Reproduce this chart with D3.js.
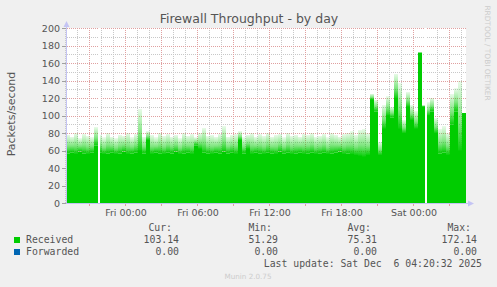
<!DOCTYPE html>
<html><head><meta charset="utf-8">
<script src="https://cdn.jsdelivr.net/npm/d3@7"></script>
<style>body{margin:0;background:#F0F0F0}svg{display:block}</style>
</head><body>
<script>
const title = "Firewall Throughput - by day";
const yLabel = "Packets/second";
const startTime = new Date(2025, 11, 4, 19, 0);
const endTime = new Date(2025, 11, 6, 4, 20, 32);
const stepMinutes = 20;
// Received: solid lower envelope and faded upper envelope per 20-min sample
const receivedBase = [
 57,58,56,59,57,56,58,66,58,56,
 57,58,56,57,59,56,57,58,60,57,
 72,56,58,57,56,58,57,59,56,57,
 58,56,66,62,58,57,56,58,57,59,
 57,58,56,72,57,62,56,58,57,56,
 58,57,56,59,57,58,56,57,58,56,
 57,58,56,57,58,56,57,58,59,56,
 57,56,55,54,53,55,
 118,105,55,85,100,98,120,85,80,110,95,85,172,110,100,105,80,57,58,55,90,105,60,103];
const receivedPeak = [
 78,76,80,74,79,77,75,87,78,75,
 80,76,74,78,77,80,75,79,108,76,
 82,78,75,80,77,79,76,78,74,80,
 77,79,75,80,86,77,78,76,79,88,
 76,78,79,82,75,78,80,76,79,77,
 80,76,78,79,75,80,77,78,76,79,
 78,80,76,77,79,75,80,78,76,79,
 80,82,78,84,85,80,
 125,118,70,112,122,110,148,137,95,127,112,105,172,112,115,120,97,85,88,80,125,131,140,103];
const gaps = [
  [new Date(2025, 11, 4, 21, 40), new Date(2025, 11, 4, 21, 50)],
  [new Date(2025, 11, 6, 0, 55), new Date(2025, 11, 6, 1, 5)]
];
const yTicks = [0, 20, 40, 60, 80, 100, 120, 140, 160, 180, 200];
const xTickLabels = ["Fri 00:00", "Fri 06:00", "Fri 12:00", "Fri 18:00", "Sat 00:00"];
const xTickTimes = [new Date(2025,11,5,0), new Date(2025,11,5,6), new Date(2025,11,5,12), new Date(2025,11,5,18), new Date(2025,11,6,0)];
const legendNames = ["Received", "Forwarded"];
const legendColors = ["#00CC00", "#0066B3"];
const statHeaders = ["Cur:", "Min:", "Avg:", "Max:"];
const receivedStats = ["103.14", "51.29", "75.31", "172.14"];
const forwardedStats = ["0.00", "0.00", "0.00", "0.00"];
const lastUpdate = "Last update: Sat Dec  6 04:20:32 2025";
const footer = "Munin 2.0.75";
const watermark = "RRDTOOL / TOBI OETIKER";

const W = 497, H = 287;
const svg = d3.select("body").append("svg").attr("width", W).attr("height", H);
svg.append("rect").attr("width", W).attr("height", H).attr("fill", "#F0F0F0");

const defs = svg.append("defs");
const grad = defs.append("linearGradient").attr("id", "fade").attr("x1", 0).attr("x2", 0).attr("y1", 0).attr("y2", 1);
grad.append("stop").attr("offset", "0%").attr("stop-color", "#00CC00").attr("stop-opacity", 0.08);
grad.append("stop").attr("offset", "60%").attr("stop-color", "#00CC00").attr("stop-opacity", 0.5);
grad.append("stop").attr("offset", "100%").attr("stop-color", "#00CC00").attr("stop-opacity", 0.95);

const L = 67, R = 466, T = 28, B = 203;
const endPlot = new Date(2025, 11, 6, 4, 20);
const x = d3.scaleTime().domain([startTime, endPlot]).range([66, 466]);
const y = d3.scaleLinear().domain([0, 200]).range([B, T]);

svg.append("rect").attr("x", L).attr("y", T).attr("width", R - L).attr("height", B - T).attr("fill", "#FFFFFF");

// grid
const g = svg.append("g");
d3.range(10, 201, 20).forEach(v => g.append("line").attr("x1", L).attr("x2", R).attr("y1", Math.round(y(v)) + 0.5).attr("y2", Math.round(y(v)) + 0.5)
  .attr("stroke", "#C8C8C8").attr("stroke-dasharray", "1,1"));
const hours = d3.timeHour.range(d3.timeHour.ceil(startTime), endTime);
hours.filter(t => t.getHours() % 3 !== 0).forEach(t => {
  const xx = Math.round(x(t)) - 0.5;
  g.append("line").attr("x1", xx).attr("x2", xx).attr("y1", T).attr("y2", B).attr("stroke", "#C8C8C8").attr("stroke-dasharray", "1,1");
});
yTicks.filter(v => v > 0).forEach(v => g.append("line").attr("x1", L).attr("x2", R).attr("y1", Math.round(y(v)) + 0.5).attr("y2", Math.round(y(v)) + 0.5)
  .attr("stroke", "#E0A0A0").attr("stroke-dasharray", "1,1"));
hours.filter(t => t.getHours() % 3 === 0).forEach(t => {
  const xx = Math.round(x(t)) - 0.5;
  g.append("line").attr("x1", xx).attr("x2", xx).attr("y1", T).attr("y2", B).attr("stroke", "#E0A0A0").attr("stroke-dasharray", "1,1");
  g.append("line").attr("x1", xx).attr("x2", xx).attr("y1", B).attr("y2", B + 3).attr("stroke", "#E0A0A0");
});

// data
const pts = receivedBase.map((v, i) => ({
  t: d3.timeMinute.offset(startTime, i * stepMinutes),
  t1: i === receivedBase.length - 1 ? endPlot : d3.timeMinute.offset(startTime, (i + 1) * stepMinutes),
  base: v, peak: receivedPeak[i]}));
svg.selectAll(".band").data(pts.filter(d => d.peak > d.base)).enter().append("rect")
  .attr("x", d => x(d.t)).attr("width", d => x(d.t1) - x(d.t))
  .attr("y", d => y(d.peak)).attr("height", d => y(d.base) - y(d.peak))
  .attr("fill", "url(#fade)").attr("shape-rendering", "crispEdges");
const stepPts = pts.concat([{t: endPlot, base: pts[pts.length - 1].base}]);
svg.append("path").datum(stepPts)
  .attr("d", d3.area().curve(d3.curveStepAfter).x(d => x(d.t)).y0(y(0)).y1(d => y(d.base)))
  .attr("fill", "#00CC00");
gaps.forEach(([a, b]) => svg.append("rect").attr("x", x(a)).attr("width", x(b) - x(a)).attr("y", T).attr("height", B - T).attr("fill", "#FFFFFF"));

// axes
const axisColor = "#C4C4F4";
svg.append("line").attr("x1", 66.5).attr("x2", 66.5).attr("y1", 24).attr("y2", B + 1).attr("stroke", axisColor);
svg.append("line").attr("x1", 66).attr("x2", 470).attr("y1", B + 0.5).attr("y2", B + 0.5).attr("stroke", axisColor);
svg.append("path").attr("d", "M63.5,27 L69.5,27 L66.5,21 Z").attr("fill", axisColor);
svg.append("path").attr("d", "M468,200.5 L468,206.5 L474,203.5 Z").attr("fill", axisColor);
yTicks.forEach(v => svg.append("line").attr("x1", 62).attr("x2", 66).attr("y1", Math.round(y(v)) + 0.5).attr("y2", Math.round(y(v)) + 0.5).attr("stroke", "#A0A0A0"));

const txt = "#555555";
svg.selectAll(".yt").data(yTicks).enter().append("text").attr("x", 60).attr("y", d => y(d) + 3.5)
  .attr("text-anchor", "end").attr("font-family", "DejaVu Sans").attr("font-size", 9.5).attr("fill", txt).text(d => d);
svg.selectAll(".xt").data(xTickTimes).enter().append("text").attr("x", d => x(d)).attr("y", 216)
  .attr("text-anchor", "middle").attr("font-family", "DejaVu Sans").attr("font-size", 9.5).attr("fill", txt).text((d, i) => xTickLabels[i]);

svg.append("text").attr("x", 249).attr("y", 23).attr("text-anchor", "middle").attr("font-family", "DejaVu Sans")
  .attr("font-size", 12.5).attr("fill", txt).text(title);
svg.append("text").attr("transform", "translate(15,114) rotate(-90)").attr("text-anchor", "middle").attr("font-family", "DejaVu Sans")
  .attr("font-size", 11).attr("fill", txt).text(yLabel);
svg.append("text").attr("transform", "translate(485,53) rotate(90)").attr("text-anchor", "middle").attr("font-family", "DejaVu Sans")
  .attr("font-size", 7.4).attr("fill", "#CCCCCC").text(watermark);

// legend
const mono = "DejaVu Sans Mono", fs = 9.8;
const headerRight = [172, 272, 371, 471];
const valueRight = [179, 278, 377, 477];
statHeaders.forEach((h, i) => svg.append("text").attr("x", headerRight[i]).attr("y", 231).attr("text-anchor", "end")
  .attr("font-family", mono).attr("font-size", fs).attr("fill", txt).text(h));
const rows = [receivedStats, forwardedStats];
legendNames.forEach((n, r) => {
  const by = 243 + r * 12;
  svg.append("rect").attr("x", 14).attr("y", by - 6).attr("width", 6).attr("height", 6).attr("fill", legendColors[r]);
  svg.append("text").attr("x", 26).attr("y", by).attr("font-family", mono).attr("font-size", fs).attr("fill", txt).text(n);
  rows[r].forEach((v, i) => svg.append("text").attr("x", valueRight[i]).attr("y", by).attr("text-anchor", "end")
    .attr("font-family", mono).attr("font-size", fs).attr("fill", txt).text(v));
});
svg.append("text").attr("x", 482).attr("y", 267).attr("text-anchor", "end").attr("font-family", mono).attr("font-size", fs)
  .attr("fill", txt).style("white-space", "pre").text(lastUpdate);
svg.append("text").attr("x", 248).attr("y", 279).attr("text-anchor", "middle").attr("font-family", "DejaVu Sans")
  .attr("font-size", 7.2).attr("fill", "#CCCCCC").text(footer);
</script>
</body></html>
